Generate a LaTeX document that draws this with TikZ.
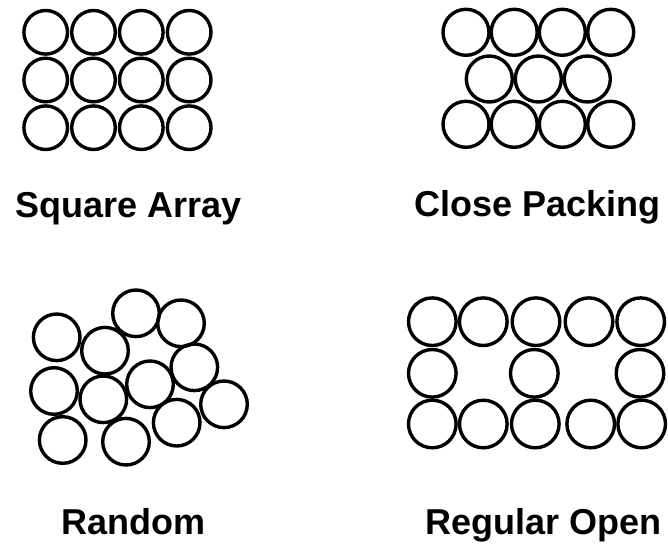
\documentclass[tikz,border=0pt]{standalone}
\usepackage{fontspec}
\setmainfont{Liberation Sans}
\begin{document}
\begin{tikzpicture}[x=1pt,y=-1pt,
  ball/.style={circle,draw=black,line width=3.4pt,inner sep=0pt,minimum size=#1},
  ball/.default=43.6pt,
  lbl/.style={anchor=base west,inner sep=0pt,font=\fontsize{36}{40}\selectfont\bfseries}]
\useasboundingbox[fill=white] (0,0) rectangle (668,548);
% Square array
\foreach \x [count=\i] in {45.7,93.5,141.3,189.2}{
  \foreach \y [count=\j] in {32.3,80,127.7}{
    \node[ball] (sq\i\j) at (\x,\y) {};
  }
}
% Close packing
\foreach \x [count=\i] in {466,514.2,562.3,610.7}{
  \node[ball=46pt] (cpt\i) at (\x,32.3) {};
  \node[ball=46pt] (cpb\i) at (\x,124.3) {};
}
\foreach \x [count=\i] in {489.3,538.3,587.3}{
  \node[ball=46pt] (cpm\i) at (\x,79) {};
}
% Random
\foreach \x/\y [count=\i] in {56.7/337.3,105/350.7,136/313.3,181/323.3,194.3/367.3,54/391,103.3/399.3,150/384.3,224/404.3,176.7/422.7,62.7/440,126/441.7}{
  \node[ball=46.6pt] (rd\i) at (\x,\y) {};
}
% Regular open
\foreach \x [count=\i] in {432.3,483.3,536,589,640.7}{
  \node[ball=47.6pt] (rot\i) at (\x,321.7) {};
}
\foreach \x [count=\i] in {432.3,534.3,640}{
  \node[ball=47.6pt] (rom\i) at (\x,373.3) {};
}
\foreach \x [count=\i] in {432.3,483.3,535.3,590.7,641.7}{
  \node[ball=47.6pt] (rob\i) at (\x,424) {};
}
% Labels
\node[lbl] (lsq) at (15,217) {Square Array};
\node[lbl] (lcp) at (414,216.5) {Close Packing};
\node[lbl] (lrd) at (61,534) {Random};
\node[lbl] (lro) at (425,534) {Regular Open};
\end{tikzpicture}
\end{document}
